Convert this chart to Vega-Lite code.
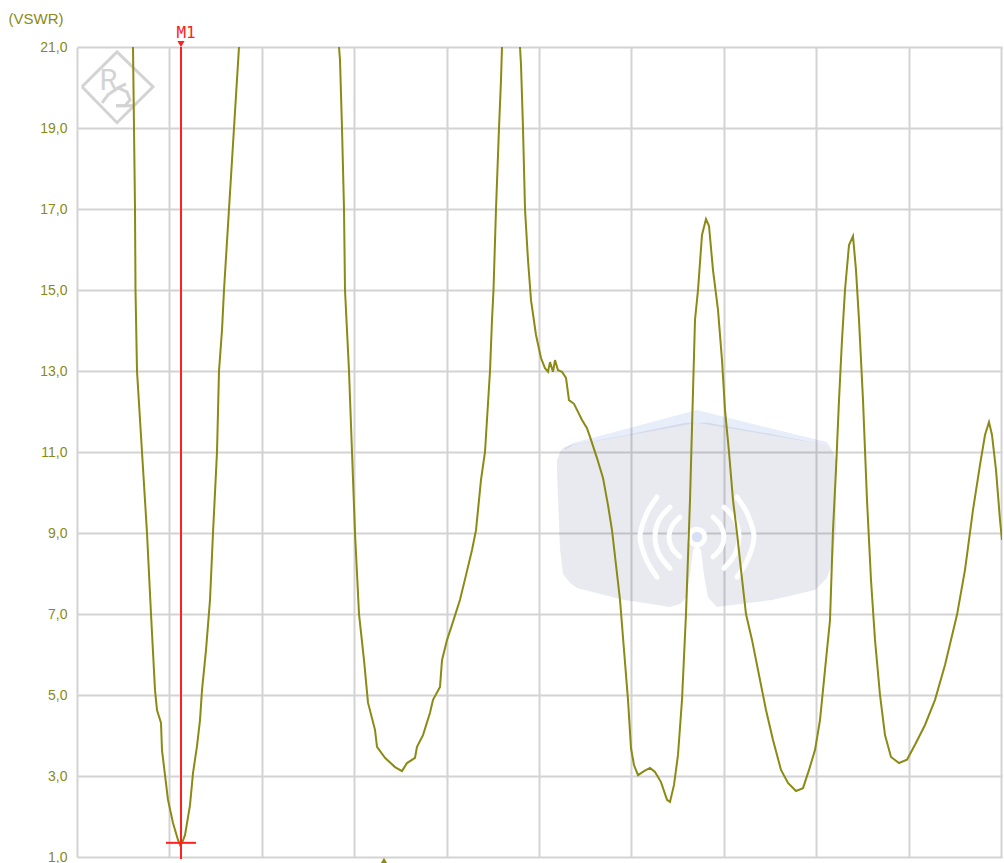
{
"$schema":"https://vega.github.io/schema/vega-lite/v6.json",
"autosize":{"type":"none"},
"padding":{"left":77,"top":47,"right":2,"bottom":6},
"width":925,"height":810,
"background":"white",
"config":{"view":{"stroke":null}},
"datasets":{
"trace":[{"x":132.5,"v":21.17},{"x":133,"v":21},{"x":134,"v":19},{"x":135,"v":17},{"x":135.5,"v":15},{"x":137,"v":13},{"x":142,"v":11},{"x":147,"v":9},{"x":151,"v":7},{"x":155,"v":5.12},{"x":157,"v":4.63},{"x":161,"v":4.31},{"x":162,"v":3.64},{"x":165,"v":3.02},{"x":168,"v":2.41},{"x":173,"v":1.84},{"x":178,"v":1.42},{"x":180,"v":1.3},{"x":182,"v":1.35},{"x":185,"v":1.54},{"x":190,"v":2.28},{"x":193,"v":3.07},{"x":197,"v":3.74},{"x":200,"v":4.38},{"x":202,"v":5.12},{"x":206,"v":6.11},{"x":210,"v":7.35},{"x":213,"v":9},{"x":217,"v":11},{"x":219,"v":13},{"x":222,"v":14.01},{"x":224,"v":15},{"x":229,"v":17},{"x":234,"v":19},{"x":239,"v":21},{"x":240,"v":21.17},{"x":338,"v":21.17},{"x":339,"v":21},{"x":340,"v":20.68},{"x":342,"v":19},{"x":344,"v":17},{"x":345,"v":15},{"x":349,"v":13},{"x":352,"v":11},{"x":355,"v":9},{"x":359,"v":7},{"x":364,"v":5.86},{"x":368,"v":4.81},{"x":375,"v":4.14},{"x":377,"v":3.72},{"x":385,"v":3.45},{"x":395,"v":3.22},{"x":402,"v":3.12},{"x":407,"v":3.32},{"x":415,"v":3.45},{"x":417,"v":3.72},{"x":423,"v":4.01},{"x":430,"v":4.56},{"x":433,"v":4.88},{"x":440,"v":5.2},{"x":442,"v":5.86},{"x":447,"v":6.36},{"x":452,"v":6.73},{"x":460,"v":7.35},{"x":466,"v":7.96},{"x":472,"v":8.58},{"x":476,"v":9.07},{"x":481,"v":10.31},{"x":485,"v":11},{"x":490,"v":13},{"x":492,"v":14.26},{"x":493.5,"v":15},{"x":496,"v":17},{"x":499,"v":19},{"x":501,"v":20.19},{"x":502,"v":21},{"x":503,"v":21.17},{"x":519,"v":21.17},{"x":520,"v":21},{"x":521,"v":20.56},{"x":523,"v":19},{"x":525,"v":17},{"x":528,"v":15.74},{"x":531,"v":14.75},{"x":536,"v":13.89},{"x":541,"v":13.32},{"x":545,"v":13.07},{"x":548,"v":12.98},{"x":550,"v":13.22},{"x":553,"v":12.98},{"x":555,"v":13.27},{"x":558,"v":13.02},{"x":562,"v":12.98},{"x":566,"v":12.83},{"x":569,"v":12.28},{"x":574,"v":12.19},{"x":578,"v":11.99},{"x":582,"v":11.79},{"x":587,"v":11.59},{"x":591,"v":11.3},{"x":597,"v":10.85},{"x":603,"v":10.36},{"x":608,"v":9.69},{"x":612,"v":9.07},{"x":616,"v":8.21},{"x":620,"v":7.35},{"x":624,"v":6.11},{"x":628,"v":4.88},{"x":631,"v":3.69},{"x":634,"v":3.27},{"x":638,"v":3.02},{"x":644,"v":3.12},{"x":650,"v":3.2},{"x":655,"v":3.1},{"x":661,"v":2.85},{"x":667,"v":2.41},{"x":670,"v":2.36},{"x":674,"v":2.78},{"x":678,"v":3.52},{"x":682,"v":4.88},{"x":686,"v":7},{"x":690,"v":9.81},{"x":693,"v":12.5},{"x":695,"v":14.26},{"x":698,"v":15},{"x":702,"v":16.36},{"x":706,"v":16.75},{"x":709,"v":16.58},{"x":713,"v":15.49},{"x":718,"v":14.51},{"x":722,"v":13.27},{"x":725,"v":12.04},{"x":729,"v":11},{"x":733,"v":9.81},{"x":737,"v":9},{"x":741,"v":8.09},{"x":746,"v":7},{"x":752,"v":6.36},{"x":760,"v":5.37},{"x":766,"v":4.63},{"x":773,"v":3.89},{"x":781,"v":3.15},{"x":788,"v":2.83},{"x":796,"v":2.63},{"x":803,"v":2.7},{"x":809,"v":3.15},{"x":815,"v":3.64},{"x":820,"v":4.38},{"x":825,"v":5.62},{"x":830,"v":6.85},{"x":833,"v":9.07},{"x":836,"v":10.56},{"x":839,"v":12.28},{"x":842,"v":13.77},{"x":845,"v":15},{"x":849,"v":16.11},{"x":853,"v":16.33},{"x":856,"v":15.49},{"x":859,"v":14.26},{"x":863,"v":12.28},{"x":867,"v":9.81},{"x":871,"v":7.84},{"x":875,"v":6.36},{"x":880,"v":5},{"x":885,"v":4.01},{"x":891,"v":3.47},{"x":899,"v":3.32},{"x":907,"v":3.4},{"x":915,"v":3.77},{"x":925,"v":4.26},{"x":935,"v":4.88},{"x":945,"v":5.74},{"x":957,"v":6.98},{"x":965,"v":8.09},{"x":973,"v":9.57},{"x":980,"v":10.68},{"x":985,"v":11.42},{"x":989,"v":11.74},{"x":992,"v":11.42},{"x":996,"v":10.56},{"x":1000,"v":9.32},{"x":1002,"v":8.83}],
"shield":[{"x":557,"v":10.8,"v2":10.5},{"x":560,"v":11,"v2":8.6},{"x":563,"v":11.1,"v2":7.99},{"x":570,"v":11.17,"v2":7.77},{"x":577,"v":11.2,"v2":7.64},{"x":623,"v":11.4,"v2":7.35},{"x":670,"v":11.64,"v2":7.17},{"x":680,"v":11.69,"v2":7.25},{"x":686,"v":11.72,"v2":7.41},{"x":690,"v":11.72,"v2":7.96},{"x":693,"v":11.72,"v2":8.58},{"x":697,"v":11.72,"v2":8.7},{"x":701,"v":11.72,"v2":8.58},{"x":704,"v":11.72,"v2":7.96},{"x":708,"v":11.72,"v2":7.41},{"x":717,"v":11.68,"v2":7.17},{"x":773,"v":11.43,"v2":7.35},{"x":815,"v":11.23,"v2":7.59},{"x":827,"v":11.17,"v2":7.89},{"x":833,"v":11,"v2":8.33},{"x":836,"v":10.8,"v2":9.12}],
"band":[{"x":565,"v":11.1,"v2":11.05},{"x":573,"v":11.22,"v2":11.17},{"x":635,"v":11.63,"v2":11.44},{"x":697,"v":12.04,"v2":11.72},{"x":765,"v":11.62,"v2":11.44},{"x":827,"v":11.25,"v2":11.17},{"x":832,"v":11.05,"v2":11.03}],
"arcs":[
{"g":"a1","i":1,"x":657,"v":9.89},{"g":"a1","i":2,"x":646,"v":9.44},{"g":"a1","i":3,"x":640,"v":8.9},{"g":"a1","i":4,"x":646,"v":8.36},{"g":"a1","i":5,"x":657,"v":7.91},
{"g":"a2","i":1,"x":737,"v":9.89},{"g":"a2","i":2,"x":748,"v":9.44},{"g":"a2","i":3,"x":754,"v":8.9},{"g":"a2","i":4,"x":748,"v":8.36},{"g":"a2","i":5,"x":737,"v":7.91},
{"g":"b1","i":1,"x":670,"v":9.64},{"g":"b1","i":2,"x":659,"v":9.32},{"g":"b1","i":3,"x":655,"v":8.9},{"g":"b1","i":4,"x":659,"v":8.48},{"g":"b1","i":5,"x":670,"v":8.13},
{"g":"b2","i":1,"x":724,"v":9.64},{"g":"b2","i":2,"x":735,"v":9.32},{"g":"b2","i":3,"x":739,"v":8.9},{"g":"b2","i":4,"x":735,"v":8.48},{"g":"b2","i":5,"x":724,"v":8.13},
{"g":"c1","i":1,"x":680,"v":9.39},{"g":"c1","i":2,"x":672,"v":9.17},{"g":"c1","i":3,"x":669,"v":8.9},{"g":"c1","i":4,"x":672,"v":8.63},{"g":"c1","i":5,"x":680,"v":8.41},
{"g":"c2","i":1,"x":713,"v":9.39},{"g":"c2","i":2,"x":721,"v":9.17},{"g":"c2","i":3,"x":724,"v":8.9},{"g":"c2","i":4,"x":721,"v":8.63},{"g":"c2","i":5,"x":713,"v":8.41}],
"logo":[
{"g":"d","i":1,"x":82,"v":20.02},{"g":"d","i":2,"x":117,"v":20.88},{"g":"d","i":3,"x":153,"v":20.02},{"g":"d","i":4,"x":117,"v":19.13},{"g":"d","i":5,"x":82,"v":20.02},
{"g":"p","i":1,"x":102,"v":19.62},{"g":"p","i":2,"x":108,"v":19.82},{"g":"p","i":3,"x":118,"v":19.99},{"g":"p","i":4,"x":126,"v":20.09},
{"g":"q","i":1,"x":118,"v":19.99},{"g":"q","i":2,"x":127,"v":19.89},{"g":"q","i":3,"x":130,"v":19.69},{"g":"q","i":4,"x":125,"v":19.55},{"g":"q","i":5,"x":116,"v":19.55},
{"g":"r","i":1,"x":116,"v":19.55},{"g":"r","i":2,"x":135,"v":19.55}]
},
"encoding":{
"x":{"field":"x","type":"quantitative","scale":{"domain":[77,1002],"nice":false,"zero":false},
"axis":{"title":null,"orient":"bottom","values":[77,168.5,262,354,446.5,539,631,724,816,908.5,1001],"labels":false,"ticks":false,"domain":false,"grid":true,"gridColor":"#d3d3d3","gridWidth":2}},
"y":{"field":"v","type":"quantitative","scale":{"domain":[1,21],"nice":false,"zero":false},
"axis":{"title":"(VSWR)","titleAngle":0,"titleAlign":"left","titleBaseline":"middle","titleX":-69,"titleY":-29,"titleFont":"Liberation Sans","titleFontSize":15,"titleFontWeight":"normal","titleColor":"#8a8a14",
"values":[1,3,5,7,9,11,13,15,17,19,21],"labelExpr":"replace(format(datum.value,'.1f'),'.',',')","labelFont":"Liberation Sans","labelFontSize":14,"labelColor":"#8a8a14","labelPadding":10,"ticks":false,"domain":false,"grid":true,"gridColor":"#d3d3d3","gridWidth":2}}
},
"layer":[
{"data":{"name":"shield"},"mark":{"type":"area","color":"#1a2f70","opacity":0.1},"encoding":{"y2":{"field":"v2"}}},
{"data":{"name":"band"},"mark":{"type":"area","color":"#1a50d0","opacity":0.1},"encoding":{"y2":{"field":"v2"}}},
{"data":{"name":"arcs"},"mark":{"type":"line","color":"white","strokeWidth":5,"strokeCap":"round","interpolate":"cardinal","opacity":0.95},"encoding":{"detail":{"field":"g"},"order":{"field":"i"}}},
{"data":{"values":[{"x":697,"v":8.9}]},"mark":{"type":"point","shape":"circle","size":240,"stroke":"white","strokeWidth":5,"fill":"#d8e0f5","opacity":1}},
{"data":{"name":"logo"},"mark":{"type":"line","color":"#d3d3d3","strokeWidth":3},"encoding":{"detail":{"field":"g"},"order":{"field":"i"}}},
{"data":{"values":[{"x":108.5,"v":20.16,"t":"R"}]},"mark":{"type":"text","font":"Roboto","fontSize":29,"color":"#d3d3d3","baseline":"middle","align":"center"},"encoding":{"text":{"field":"t"}}},
{"data":{"name":"trace"},"mark":{"type":"line","color":"#8a8a14","strokeWidth":2,"clip":true}},
{"data":{"values":[{"x":181,"v":0.95,"v2":21}]},"mark":{"type":"rule","color":"#ff2020","strokeWidth":2},"encoding":{"y2":{"field":"v2"}}},
{"data":{"values":[{"x":166,"x2":196,"v":1.35}]},"mark":{"type":"rule","color":"#ff2020","strokeWidth":2},"encoding":{"x2":{"field":"x2"}}},
{"data":{"values":[{"x":181,"v":21.07}]},"mark":{"type":"point","shape":"triangle-down","size":50,"filled":true,"color":"#ff2020","opacity":1}},
{"data":{"values":[{"x":186,"v":21.35,"t":"M1"}]},"mark":{"type":"text","font":"DejaVu Sans Mono","fontSize":16,"color":"#ff2020","baseline":"middle","align":"center"},"encoding":{"text":{"field":"t"}}},
{"data":{"values":[{"x":384,"v":0.9}]},"mark":{"type":"point","shape":"triangle-up","size":60,"filled":true,"color":"#8a8a14","opacity":1}}
]
}
